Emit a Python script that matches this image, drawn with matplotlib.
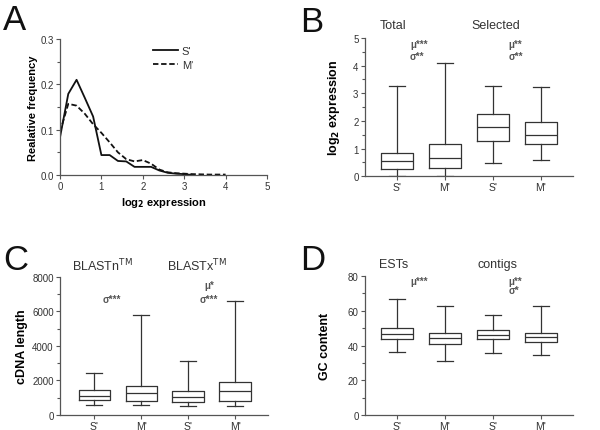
import matplotlib.pyplot as plt
from matplotlib.ticker import MultipleLocator

plt.rcParams['font.family'] = ['Liberation Sans', 'DejaVu Sans']

# panel A: relative frequency of log2 expression
bins = [0.0, 0.2, 0.4, 0.6, 0.8, 1.0, 1.2, 1.4, 1.6, 1.8, 2.0, 2.2, 2.4, 2.6, 2.8, 3.0, 3.2]
freq_s = [0.083, 0.179, 0.21, 0.17, 0.129, 0.044, 0.044, 0.031, 0.03, 0.018, 0.018, 0.018, 0.01, 0.005, 0.003, 0.002, 0.0]
bins_m = [0.0, 0.2, 0.4, 0.6, 0.8, 1.0, 1.2, 1.4, 1.6, 1.8, 2.0, 2.2, 2.4, 2.6, 2.8, 3.0, 3.2, 3.6, 4.0]
freq_m = [0.095, 0.157, 0.153, 0.135, 0.112, 0.093, 0.072, 0.05, 0.035, 0.03, 0.033, 0.025, 0.012, 0.006, 0.004, 0.003, 0.002, 0.001, 0.001]

cats = ["S'", "M'", "S'", "M'"]

# box stats: low whisker, q1, median, q3, high whisker
expr_stats = [[0.0, 0.27, 0.55, 0.84, 3.27],
              [0.0, 0.29, 0.65, 1.15, 4.08],
              [0.49, 1.28, 1.77, 2.26, 3.27],
              [0.59, 1.16, 1.49, 1.95, 3.23]]
len_stats = [[560, 890, 1120, 1430, 2420],
             [560, 790, 1300, 1690, 5810],
             [500, 740, 1070, 1410, 3120],
             [500, 790, 1380, 1900, 6630]]
gc_stats = [[36.0, 43.5, 46.5, 49.8, 66.5],
            [31.2, 41.0, 44.2, 47.1, 62.5],
            [35.6, 43.5, 46.0, 49.0, 57.5],
            [34.6, 42.3, 44.8, 47.1, 63.0]]

axcol = '#555555'
lncol = '#333333'

fig = plt.figure(figsize=(6, 4.31), dpi=100)


def style(ax):
    for s in ['top', 'right']:
        ax.spines[s].set_visible(False)
    for s in ['left', 'bottom']:
        ax.spines[s].set_color(axcol)
        ax.spines[s].set_linewidth(0.9)
    ax.tick_params(colors=axcol, labelcolor='#333333', labelsize=7, width=0.8, length=3, pad=1.5)
    ax.tick_params(which='minor', colors=axcol, width=0.8, length=2)


def boxes(ax, stats):
    bx = []
    for i, (lo, q1, med, q3, hi) in enumerate(stats):
        bx.append(dict(label=cats[i], whislo=lo, q1=q1, med=med, q3=q3, whishi=hi, fliers=[]))
    props = dict(color=lncol, linewidth=0.9)
    ax.bxp(bx, positions=[1, 2, 3, 4], widths=0.67, showfliers=False,
           boxprops=props, medianprops=props, whiskerprops=props, capprops=props)
    ax.set_xlim(0.33, 4.67)


# A
axA = fig.add_axes([0.1, 0.5916, 0.345, 0.3156])
axA.plot(bins, freq_s, color='#111111', lw=1.3, label="S'")
axA.plot(bins_m, freq_m, color='#111111', lw=1.3, ls=(0, (3, 1.5)), label="M'")
axA.set_xlim(0, 5)
axA.set_ylim(0, 0.3)
axA.set_xticks([0, 1, 2, 3, 4, 5])
axA.set_yticks([0.0, 0.1, 0.2, 0.3])
axA.yaxis.set_minor_locator(MultipleLocator(0.05))
axA.set_yticklabels(['0.0', '0.1', '0.2', '0.3'])
style(axA)
axA.set_xlabel('log$_\\mathbf{2}$ expression', fontsize=8, fontweight='bold', labelpad=3)
axA.set_ylabel('Realative frequency', fontsize=8, fontweight='bold', labelpad=2)
axA.legend(loc='upper left', bbox_to_anchor=(0.4, 1.02), frameon=False, fontsize=8,
           handlelength=2.3, handletextpad=0.3, labelspacing=0.3, labelcolor='#333333')

# B
axB = fig.add_axes([0.608, 0.589, 0.347, 0.3205])
boxes(axB, expr_stats)
axB.set_ylim(0, 5)
axB.yaxis.set_major_locator(MultipleLocator(1))
axB.yaxis.set_minor_locator(MultipleLocator(0.5))
style(axB)
axB.tick_params(axis='x', labelsize=7.5)
axB.set_ylabel('log$_\\mathbf{2}$ expression', fontsize=9, fontweight='bold', labelpad=8)
axB.text(1.27, 4.78, 'μ***', fontsize=7, color='#555555', fontweight='bold', va='center')
axB.text(1.27, 4.35, 'σ**', fontsize=7, color='#555555', fontweight='bold', va='center')
axB.text(3.33, 4.78, 'μ**', fontsize=7, color='#555555', fontweight='bold', va='center')
axB.text(3.33, 4.35, 'σ**', fontsize=7, color='#555555', fontweight='bold', va='center')

# C
axC = fig.add_axes([0.1, 0.0348, 0.3467, 0.3202])
boxes(axC, len_stats)
axC.set_xlim(0.27, 4.7)
axC.set_ylim(0, 8000)
axC.yaxis.set_major_locator(MultipleLocator(2000))
axC.yaxis.set_minor_locator(MultipleLocator(1000))
style(axC)
axC.tick_params(axis='x', labelsize=7.5)
axC.set_ylabel('cDNA length', fontsize=9, fontweight='bold', labelpad=3)
axC.text(1.17, 6725, 'σ***', fontsize=7, color='#555555', fontweight='bold', va='center')
axC.text(3.35, 7540, 'μ*', fontsize=7, color='#555555', fontweight='bold', va='center')
axC.text(3.25, 6725, 'σ***', fontsize=7, color='#555555', fontweight='bold', va='center')

# D
axD = fig.add_axes([0.608, 0.0348, 0.347, 0.3225])
boxes(axD, gc_stats)
axD.set_ylim(0, 80)
axD.yaxis.set_major_locator(MultipleLocator(20))
axD.yaxis.set_minor_locator(MultipleLocator(10))
style(axD)
axD.tick_params(axis='x', labelsize=7.5)
axD.set_ylabel('GC content', fontsize=9, fontweight='bold', labelpad=12)
axD.text(1.27, 77, 'μ***', fontsize=7, color='#555555', fontweight='bold', va='center')
axD.text(3.33, 77, 'μ**', fontsize=7, color='#555555', fontweight='bold', va='center')
axD.text(3.33, 72, 'σ*', fontsize=7, color='#555555', fontweight='bold', va='center')

# group titles
tcol = '#333333'
fig.text(393 / 600, 1 - 26 / 431, 'Total', fontsize=9, color=tcol, ha='center', va='center')
fig.text(496 / 600, 1 - 26 / 431, 'Selected', fontsize=9, color=tcol, ha='center', va='center')
fig.text(102 / 600, 1 - 266 / 431, 'BLASTn$^{\\mathrm{TM}}$', fontsize=9, color=tcol, ha='center', va='center')
fig.text(197 / 600, 1 - 266 / 431, 'BLASTx$^{\\mathrm{TM}}$', fontsize=9, color=tcol, ha='center', va='center')
fig.text(394 / 600, 1 - 265 / 431, 'ESTs', fontsize=9, color=tcol, ha='center', va='center')
fig.text(497 / 600, 1 - 265 / 431, 'contigs', fontsize=9, color=tcol, ha='center', va='center')

# panel letters
for lab, x, y in [('A', 3, 4), ('B', 300, 6), ('C', 3, 244), ('D', 300, 244)]:
    fig.text(x / 600, 1 - y / 431, lab, fontsize=25, ha='left', va='top', color='#111111')

fig.savefig('out.png', dpi=100)
